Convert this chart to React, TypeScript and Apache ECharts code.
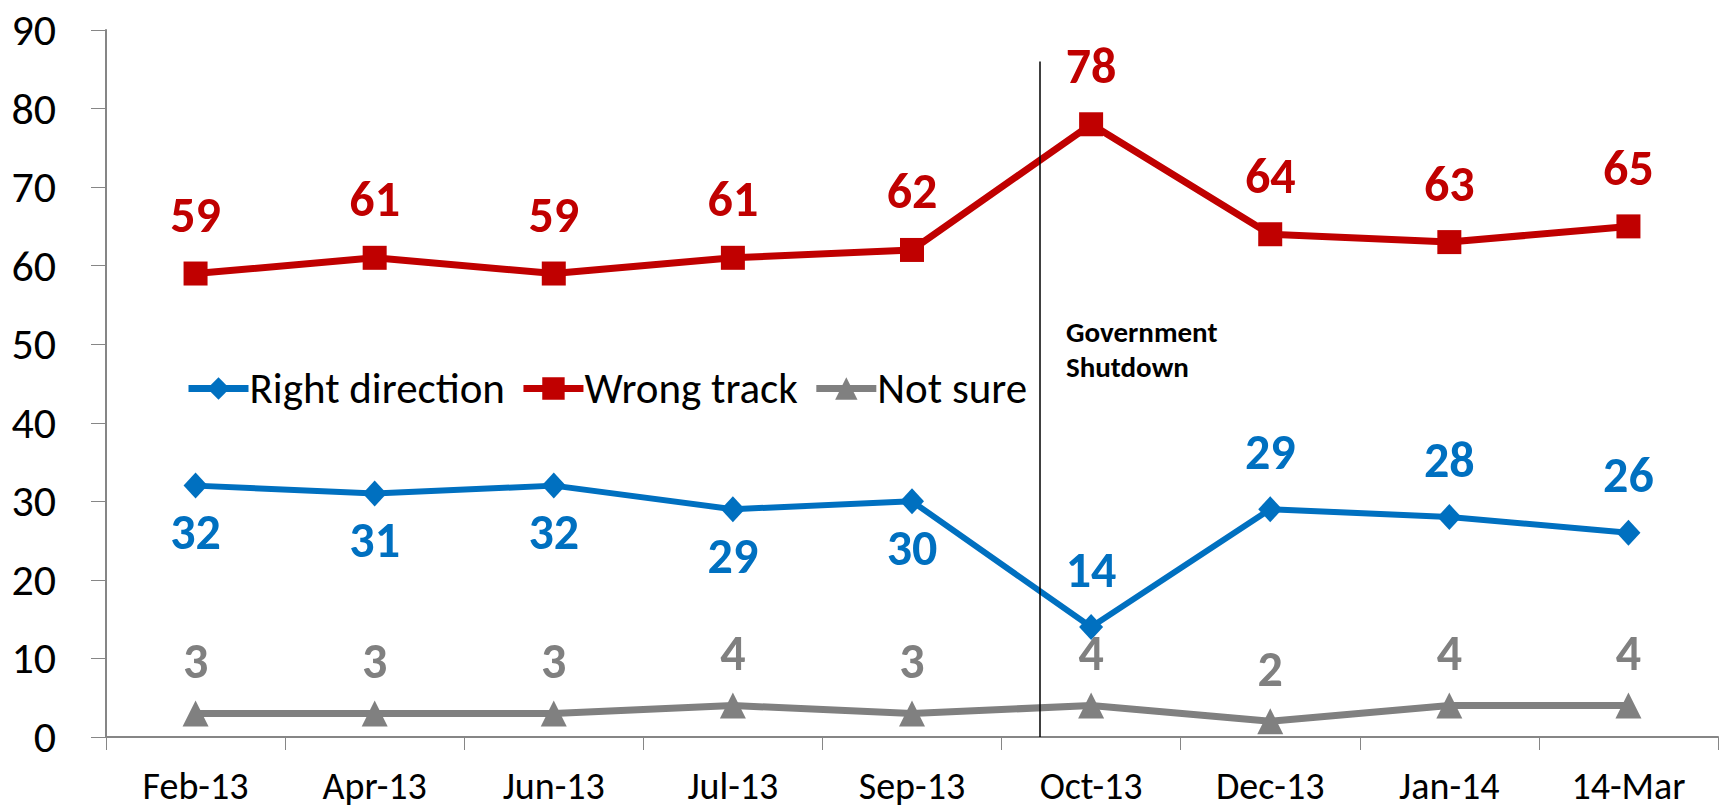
import React, { useEffect, useRef } from "react";
import * as echarts from "echarts";

const categories = ["Feb-13", "Apr-13", "Jun-13", "Jul-13", "Sep-13", "Oct-13", "Dec-13", "Jan-14", "14-Mar"];
const rightDirection = [32, 31, 32, 29, 30, 14, 29, 28, 26];
const wrongTrack = [59, 61, 59, 61, 62, 78, 64, 63, 65];
const notSure = [3, 3, 3, 4, 3, 4, 2, 4, 4];
const rightLabelPositions = ["bottom", "bottom", "bottom", "bottom", "bottom", "top", "top", "top", "top"];
const seriesNames = ["Right direction", "Wrong track", "Not sure"];
const yTicks = { min: 0, max: 90, interval: 10 };
const shutdownPosition = 4.715;
const shutdownLabel = "Government\nShutdown";

const FONT = "Carlito, Lato, 'Open Sans', sans-serif";
const BLUE = "#0070C0";
const RED = "#C00000";
const GRAY = "#808080";

export default function App() {
  const ref = useRef<HTMLDivElement>(null);
  useEffect(() => {
    document.body.style.margin = "0";
    if (!ref.current) return;
    const chart = echarts.init(ref.current, null, { renderer: "svg" });
    const labelBase = { show: true, fontFamily: FONT, fontWeight: "bold", fontSize: 50 };
    chart.setOption({
      animation: false,
      backgroundColor: "#ffffff",
      grid: { left: 106, right: 2, top: 30, bottom: 72, containLabel: false },
      legend: {
        data: seriesNames.map((n) => ({ name: n, lineStyle: { width: 7 } })),
        left: 180,
        top: 362,
        itemWidth: 60,
        itemHeight: 28,
        itemGap: 15,
        lineStyle: { width: 7 },
        textStyle: { fontFamily: FONT, fontSize: 43, color: "#000", padding: [0, 0, 0, -4] },
      },
      xAxis: [
        {
          type: "category",
          data: categories,
          boundaryGap: true,
          axisLine: { show: true, lineStyle: { color: "#868686", width: 2 } },
          axisTick: { show: true, length: 13, lineStyle: { color: "#868686", width: 1 }, alignWithLabel: false },
          axisLabel: { fontFamily: FONT, fontSize: 38, color: "#000", margin: 30 },
          splitLine: { show: false },
        },
        { type: "value", min: -0.5, max: 8.5, show: false },
      ],
      yAxis: {
        type: "value",
        min: yTicks.min,
        max: yTicks.max,
        interval: yTicks.interval,
        axisLine: { show: true, onZero: false, lineStyle: { color: "#868686", width: 2 } },
        axisTick: { show: true, length: 15, lineStyle: { color: "#868686", width: 1 } },
        axisLabel: { fontFamily: FONT, fontSize: 44, color: "#000", margin: 50 },
        splitLine: { show: false },
      },
      series: [
        {
          name: seriesNames[0],
          type: "line",
          data: rightDirection.map((v, i) => ({
            value: v,
            label: { position: rightLabelPositions[i], distance: rightLabelPositions[i] === "top" ? 20 : 8 },
          })),
          symbol: "diamond",
          symbolSize: [24, 26],
          lineStyle: { color: BLUE, width: 6 },
          itemStyle: { color: BLUE },
          label: { ...labelBase, color: BLUE },
        },
        {
          name: seriesNames[1],
          type: "line",
          data: wrongTrack,
          symbol: "rect",
          symbolSize: 24,
          lineStyle: { color: RED, width: 7 },
          itemStyle: { color: RED },
          label: { ...labelBase, color: RED, position: "top", distance: 22 },
        },
        {
          name: seriesNames[2],
          type: "line",
          data: notSure,
          symbol: "triangle",
          symbolSize: 26,
          lineStyle: { color: GRAY, width: 7 },
          itemStyle: { color: GRAY },
          label: { ...labelBase, color: GRAY, position: "top", distance: 15 },
        },
        {
          name: "shutdown",
          type: "line",
          xAxisIndex: 1,
          data: [],
          silent: true,
          markLine: {
            silent: true,
            symbol: "none",
            label: { show: false },
            lineStyle: { color: "#000", width: 1.5, type: "solid" },
            data: [[{ coord: [shutdownPosition, 0] }, { coord: [shutdownPosition, 86] }]],
          },
        },
      ],
      graphic: [
        {
          type: "text",
          left: 1066,
          top: 314,
          style: {
            text: shutdownLabel,
            fontFamily: FONT,
            fontWeight: "bold",
            fontSize: 29,
            lineHeight: 35,
            fill: "#000",
          },
        },
      ],
    });
    return () => chart.dispose();
  }, []);
  return <div ref={ref} style={{ width: 1720, height: 809 }} />;
}
